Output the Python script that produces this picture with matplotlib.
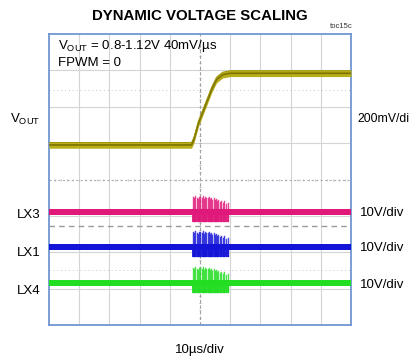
import numpy as np
import matplotlib.pyplot as plt

plt.rcParams['font.family'] = ['Liberation Sans', 'DejaVu Sans']

# screen is 10 x 8 divisions
n_xdiv = 10
n_ydiv = 8

# VOUT trace key points (time in div, level in div)
vout_t = [0.0, 4.72, 4.80, 4.95, 5.40, 5.55, 5.75, 6.00, 10.0]
vout_v = [4.95, 4.95, 5.10, 5.55, 6.50, 6.75, 6.88, 6.92, 6.92]

# switching node traces: baseline level in div
lx_names = ['LX3', 'LX1', 'LX4']
lx_levels = [3.10, 2.14, 1.15]
lx_colors = ['#e0187a', '#1414d8', '#22dd22']
lx_scales = ['10V/div', '10V/div', '10V/div']

# burst during the transition
burst_start = 4.74
burst_end = 5.95
burst_t = [4.77, 4.81, 4.85, 4.89, 4.93, 4.97, 5.01, 5.05, 5.09, 5.13,
           5.17, 5.21, 5.25, 5.29, 5.33, 5.37, 5.41, 5.45, 5.49, 5.53,
           5.57, 5.61, 5.66, 5.71, 5.76, 5.81, 5.87, 5.93]
burst_h = [0.42, 0.38, 0.44, 0.40, 0.36, 0.43, 0.41, 0.39, 0.44, 0.37,
           0.42, 0.40, 0.38, 0.41, 0.36, 0.40, 0.34, 0.38, 0.33, 0.36,
           0.30, 0.34, 0.28, 0.32, 0.26, 0.30, 0.22, 0.25]
burst_low = 0.26

ref_dash_y = 2.72
dotted_y = [6.46, 1.51]

fig = plt.figure(figsize=(4.12, 3.62), dpi=100, facecolor='w')
ax = fig.add_axes([49/412, 37/362, 302/412, 291/362])
ax.set_xlim(0, n_xdiv)
ax.set_ylim(0, n_ydiv)
ax.set_xticks([])
ax.set_yticks([])
for s in ax.spines.values():
    s.set_color('#7097d2')
    s.set_linewidth(1.3)

# grid
for i in range(1, n_xdiv):
    if i != 5:
        ax.axvline(i, color='#d4d4d4', lw=0.8, zorder=1)
for j in range(1, n_ydiv):
    if j != 4:
        ax.axhline(j, color='#d4d4d4', lw=0.8, zorder=1)
ax.axvline(5, color='#a0a0a0', lw=0.8, ls=(0, (3, 2)), zorder=1)
ax.axhline(4, color='#b0b0b0', lw=0.8, ls=(0, (2, 2)), zorder=1)
ticks_x = np.arange(0.2, n_xdiv, 0.2)
ax.plot(ticks_x, [4] * len(ticks_x), '|', color='#b0b0b0', ms=2, mew=0.5, zorder=1)
ticks_y = np.arange(0.2, n_ydiv, 0.2)
ax.plot([5] * len(ticks_y), ticks_y, '_', color='#a0a0a0', ms=2, mew=0.5, zorder=1)
for y in dotted_y:
    ax.axhline(y, color='#c8c8c8', lw=0.7, ls=(0, (1, 3)), zorder=1)
ax.axhline(ref_dash_y, color='#9a9a9a', lw=1.0, ls=(0, (4, 3)), zorder=2)

# VOUT
vt = np.array(vout_t)
vv = np.array(vout_v)
ax.fill_between(vt, vv - 0.09, vv + 0.09, color='#b8ad1a', lw=0, zorder=3)
ax.plot(vt, vv, color='#7d7400', lw=1.2, zorder=4)
ax.plot(vt, vv + 0.07, color='#9a9000', lw=0.6, zorder=4)

# LX traces
for name, lvl, col in zip(lx_names, lx_levels, lx_colors):
    ax.fill_between([0, n_xdiv], lvl - 0.08, lvl + 0.08, color=col, lw=0, zorder=3)
    ax.fill_between([burst_start, burst_end], lvl - burst_low, lvl + 0.05,
                    color=col, lw=0, alpha=0.9, zorder=3)
    for t, h in zip(burst_t, burst_h):
        ax.plot([t, t], [lvl - burst_low + 0.02, lvl + h], color=col, lw=1.0,
                alpha=0.8, zorder=4)

# text
fig.text(200/412, 1 - 16/362, 'DYNAMIC VOLTAGE SCALING', ha='center', va='center',
         fontsize=10.8, fontweight='bold')
fig.text(353/412, 1 - 27/362, 'toc15c', ha='right', va='center', fontsize=5.5,
         color='#333333')
ax.text(0.3, 7.66, r'V$_{\mathregular{OUT}}$ = 0.8-1.12V 40mV/µs', fontsize=9.5,
        va='center', ha='left')
ax.text(0.3, 7.20, 'FPWM = 0', fontsize=9.5, va='center', ha='left')

fig.text(10/412, 1 - 119/362, r'V$_{\mathregular{OUT}}$', fontsize=9.5,
         ha='left', va='center')
fig.text(357/412, 1 - 119/362, '200mV/di', fontsize=8.8, ha='left', va='center')
label_py = [215, 253, 291]
scale_py = [213, 248, 285]
for name, sc, lp, sp in zip(lx_names, lx_scales, label_py, scale_py):
    fig.text(41/412, 1 - lp/362, name, fontsize=9.5, ha='right', va='center')
    fig.text(360/412, 1 - sp/362, sc, fontsize=9.5, ha='left', va='center')
fig.text(200/412, 1 - 350/362, '10µs/div', fontsize=9.5, ha='center', va='center')

fig.savefig('out.png', dpi=100, facecolor='w')
